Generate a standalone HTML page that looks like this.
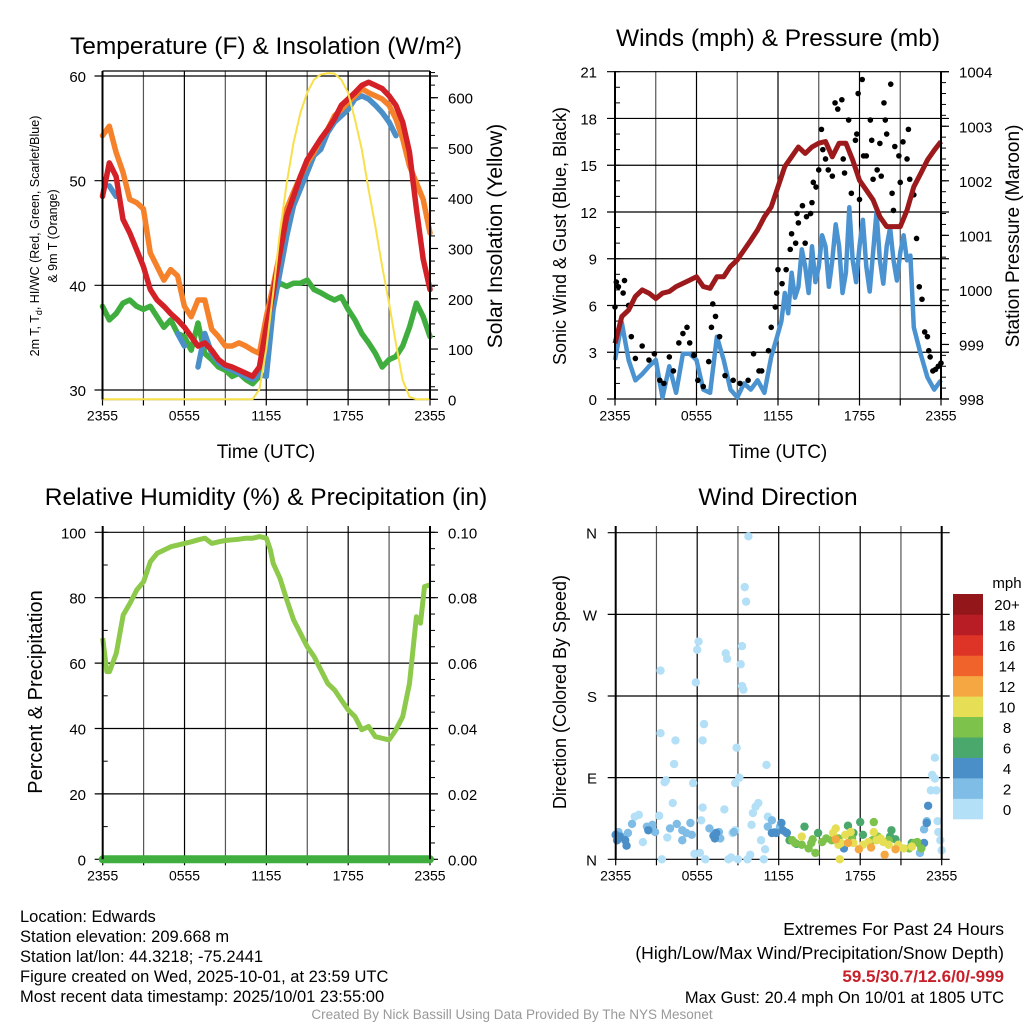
<!DOCTYPE html>
<html><head><meta charset="utf-8"><style>
html,body{margin:0;padding:0;background:#fff;}
svg{display:block;font-family:"Liberation Sans",Arial,sans-serif;}
</style></head><body>
<svg id="root" width="1024" height="1024" viewBox="0 0 1024 1024" xmlns="http://www.w3.org/2000/svg">
<g id="g1"></g>
<g id="g2"></g>
<g id="g3"></g>
<g id="g4"></g>
<g id="gt"></g>
</svg>
<script>
// ---- data (time in hours since 2355) ----
const hours = [0,0.5,1,1.5,2,2.5,3,3.5,4,4.5,5,5.5,6,6.5,7,7.5,8,8.5,9,9.5,10,10.5,11,11.5,12,12.5,13,13.5,14,14.5,15,15.5,16,16.5,17,17.5,18,18.5,19,19.5,20,20.5,21,21.5,22,22.5,23,23.5,24];
const tempRed = [48.5,51.7,50.4,46.3,45,43.4,41.8,39.6,38.6,38,37.3,36.7,36,35.1,34.2,34.5,33.8,32.9,32.4,32.2,31.9,31.6,31.3,32.2,36,39.3,43.1,46.6,48.5,50.4,52,53,54,54.9,55.9,57.2,57.8,58.4,59.1,59.4,59.1,58.8,58.1,57.2,55.6,52.7,47.3,42.5,39.6];
const temp9m = [54.3,55.2,52.7,50.8,48.2,47.9,47.3,43.1,41.8,40.5,41.5,40.9,38,37,38.6,38.6,35.8,35.1,34.2,34.2,34.5,34.2,33.8,33.5,37,39.9,43.1,47.3,48.9,50.4,51.7,52.7,54,54.9,56.2,56.8,57.5,58.1,58.8,58.4,58.1,57.8,57.2,55.9,54,51.4,49.8,48.2,45];
const tempHI = [null,49.5,48.5,null,null,null,null,null,null,null,null,35.4,34.2,null,32.2,35.4,33.5,32.6,32.2,31.9,31.6,31.3,31,31.5,31.3,37.7,41.2,44.7,47.6,49.2,50.8,52.4,53,54.6,55.6,56.2,56.8,57.8,58.1,57.8,57.2,56.5,55.6,54.3,null,null,null,null,null];
const tempDew = [38,36.7,37.3,38.3,38.6,38,37.7,38,37,36,36.7,35.4,35.1,33.8,36.4,33.5,32.9,32.2,31.9,31.3,31.6,31,30.6,31.3,36.7,39.3,40.2,39.9,40.2,40.2,40.5,39.6,39.3,38.9,38.6,38.9,37.7,36.7,35.4,34.5,33.5,32.2,32.9,33.2,34.2,36,38.3,37,35.1];
const solar = [0,0,0,0,0,0,0,0,0,0,0,0,0,0,0,0,0,0,0,0,0,0,0,20,100,211,332,430,510,570,610,636,646,649,648,636,610,557,497,417,344,264,191,111,38,5,0,0,0];
const windHours = [0,0.5,1,1.5,2,2.5,3,3.5,4,4.5,5,5.5,6,6.5,7,7.5,8,8.5,9,9.5,10,10.5,11,11.5,12,12.25,12.5,12.75,13,13.25,13.5,13.75,14,14.25,14.5,14.75,15,15.25,15.5,15.75,16,16.25,16.5,16.75,17,17.25,17.5,17.75,18,18.25,18.5,18.75,19,19.25,19.5,19.75,20,20.25,20.5,20.75,21,21.25,21.5,21.75,22,22.5,23,23.5,24];
const windSpd = [2.5,4.9,2.5,1.2,1.6,2.1,2.5,0.1,2.1,0.4,2.9,2.9,2.5,0.6,0.4,4,2.5,0.6,0.1,1,0.6,1.2,0.4,2.7,4.2,5,6.8,5.5,8.1,6.5,7.2,9.6,8.5,6.8,9.8,7.5,8.5,10.5,9.8,7.2,8.9,11.2,9.8,6.8,8.1,12.3,8.9,7.5,9.8,11.5,8.5,6.9,9.4,12,8.9,7.4,9.8,11,8.9,7.6,9.4,10.5,8.9,9.2,4.6,2.9,1.4,0.6,1.2];
const pressure = [999.02,999.51,999.63,999.88,1000,999.94,999.84,999.94,999.97,1000.06,1000.12,1000.18,1000.24,1000.06,1000.03,1000.24,1000.24,1000.43,1000.55,1000.73,1000.91,1001.1,1001.34,1001.52,1001.89,1002.26,1002.44,1002.62,1002.5,1002.62,1002.69,1002.72,1002.44,1002.69,1002.69,1002.38,1002.01,1001.83,1001.65,1001.34,1001.16,1001.16,1001.16,1001.46,1001.89,1002.13,1002.38,1002.56,1002.72];
const gustT = [0,0.1,0.25,0.7,0.6,1,1.2,1.5,2,2.5,2.9,3.3,3.6,4,4.3,4.7,5,5.3,5.5,5.8,6.1,6.5,6.9,7.1,7.2,7.4,7.7,8.1,8.7,9.2,9.8,10.2,10.6,10.8,11.3,11.5,11.8,11.9,12,12.3,12.6,12.9,13,13.3,13.4,13.5,13.8,14,14.1,14.4,14.5,14.6,14.8,15,15.2,15.3,15.5,15.7,16,16.2,16.4,16.7,16.8,16.9,17.2,17.4,17.7,17.8,17.9,18,18.2,18.3,18.5,18.8,18.9,19,19.3,19.5,19.6,19.8,19.9,20,20.3,20.4,20.5,20.6,20.9,21,21.2,21.5,21.6,21.7,22,22.2,22.4,22.6,22.8,23,23.1,23.2,23.4,23.6,23.8,24];
const gustV = [5.9,7.5,7.2,7.6,6.8,6,4,2.6,3.4,2.5,2.9,1.2,1,2.7,1.8,3.6,4.2,4.6,3.6,2.8,1.2,0.8,2.4,4.6,6.1,5.3,4,1.5,1.2,1,1.2,2.9,1.8,1.8,3.1,4.6,5.9,6.8,8.3,7.4,8.3,9.6,10.6,10,11.9,11.3,12.4,10,11.7,11.9,12.6,13.9,13.6,14.7,17.3,16,15.4,14.7,14.3,19,18.6,19.2,15.4,14.5,17.9,13.2,16.6,17,19.6,12.8,20.5,15.6,15.6,17.9,16.6,14.1,14.7,16.4,14.3,19,17.9,17,20.2,13.2,12.1,16.2,15.6,13.9,16.5,15.4,17.3,14.1,13.1,10.3,7.2,6.4,4.3,4,3.1,2.7,1.8,1.9,2.1,2.3];
const rhHours = [0,0.3,0.5,1,1.5,2,2.5,3,3.5,4,4.5,5,5.5,6,6.5,7,7.5,8,8.5,9,9.5,10,10.5,11,11.5,12,12.3,12.5,13,13.5,14,14.5,15,15.5,16,16.5,17,17.5,18,18.5,19,19.5,20,20.5,21,21.5,22,22.5,23,23.3,23.6,24];
const rh = [67.6,57.4,57.4,63,74.7,78.3,82.4,84.9,91,93.6,94.6,95.6,96.1,96.6,97.1,97.7,98.2,96.6,97.1,97.5,97.7,97.9,98.2,98.2,98.7,98.2,94.6,90.5,85.9,79.3,73.2,69.1,65,62,57.9,53.8,51.8,48.7,45.7,43.6,39.6,40.6,37.5,37,36.5,39.6,43.6,53.8,74.2,72.2,83.4,83.9];
const precip = [0,0,0,0,0,0,0,0,0,0,0,0,0,0,0,0,0,0,0,0,0,0,0,0,0];
const dirT = [9.77,9.5,9.6,6.1,6.0,5.9,3.3,8.1,8.2,9.3,9.2,9.3,9.4,6.5,6.4,3.3,4.4,4.3,8.9,9.1,8.8,11.1,3.7,3.6,5.7,4.2,6.4,8,10.5,10.3,10.1,10,11.2,1.7,1.4,3.2,6.3,3.8,2,10.7,11,5.8,6.2,3.4,6.6,8.3,8.5,9,9.7,9.9,10.9,8.6,8.8,23.5,23.3,23.5,23.2,23.6,23.7,23.75,23.9,24,
 0,0.2,0.4,0.9,1.2,2.3,2.7,2.9,4,4.5,4.9,5.2,5.5,5.6,4.9,6.9,7.6,7.7,8.7,11.2,11.5,11.7,12.1,12.5,22.7,22.9,22.4,
 0,0.3,0.7,0.8,0.1,2.4,7.2,7.3,7.4,11.5,11.8,12.2,12.3,12.6,22.5,22.7,23,22.9,16.8,
 13.9,12.8,13.3,14.9,17.1,18,17.5,18.2,20.2,20.3,20.6,21.8,
 13,13.2,13.7,14.2,14.4,14.7,14.5,15.2,15.5,15.9,16.4,17.4,19,18.9,19.3,20.1,21.6,22,22.2,22.5,
 13.7,16.2,16,16.4,16.6,16.9,17.3,17.5,18.2,18.6,19,19.2,19.5,19.7,20.1,20.8,21.2,21.8,16.5,
 16.2,17.1,17.9,18.8,19.8,20.6];
const dirDeg = [356,300,284,240,231,195,208,227,221,235,215,191,187,149,131,139,131,105,123,90,84,104,87,85,84,62,57,55,62,58,51,38,47,49,47,48,43,24,19,21,11,6,7,0,0,0,2,0,0,5,0,29,32,112,93,89,76,76,42,30,21,10,
 27,30,25,29,39,36,38,30,34,39,32,29,40,27,21,34,30,23,30,36,43,30,36,30,33,42,7,
 27,25,21,15,21,32,26,23,29,29,29,40,32,29,14,18,59,40,12,
 36,21,17,29,37,41,29,27,25,32,22,18,
 21,18,16,12,18,7,22,19,23,21,23,23,41,21,25,21,12,18,19,12,
 25,34,29,16,18,27,30,18,16,19,30,21,23,19,16,16,12,14,0,
 22,18,11,13,5,11];
const dirSpd = [1,1,1,1,1,1,1,1,1,1,1,1,1,1,1,1,1,1,1,1,1,1,1,1,1,1,1,1,1,1,1,1,1,1,1,1,1,1,1,1,1,1,1,1,1,1,1,1,1,1,1,1,1,1,1,1,1,1,1,1,1,1,
 3,3,3,3,3,3,3,3,3,3,3,3,3,3,3,3,3,3,3,3,3,3,3,3,3,3,3,
 5,5,5,5,5,5,5,5,5,5,5,5,5,5,5,5,5,5,5,
 7,7,7,7,7,7,7,7,7,7,7,7,
 9,9,9,9,9,9,9,9,9,9,9,9,9,9,9,9,9,9,9,9,
 11,11,11,11,11,11,11,11,11,11,11,11,11,11,11,11,11,11,11,
 13,13,13,13,13,13];
const xTickLabels = ["2355","0555","1155","1755","2355"];
const speedBins = ["0","2","4","6","8","10","12","14","16","18","20+"];
const speedColors = ["#b3e0f7","#7fbce6","#4a8fc7","#4aa86c","#7dc24b","#e6df56","#f5a742","#f0632a","#de3327","#b81c24","#93161a"];

const NS="http://www.w3.org/2000/svg";
function mk(parent, tag, attrs, text){
  const e=document.createElementNS(NS,tag);
  for(const k in attrs) e.setAttribute(k,attrs[k]);
  if(text!==undefined) e.textContent=text;
  parent.appendChild(e); return e;
}
function linScale(d0,d1,r0,r1){return v=>r0+(v-d0)*(r1-r0)/(d1-d0);}
function pathD(xs,ys,sx,sy){
  let d="",pen=false;
  for(let i=0;i<xs.length;i++){
    if(ys[i]===null){pen=false;continue;}
    d+=(pen?"L":"M")+sx(xs[i]).toFixed(1)+","+sy(ys[i]).toFixed(1);pen=true;
  }
  return d;
}
function frame(g,L,R,T,B,yTicks,sy,title,tx,ty){
  const sx=linScale(0,24,L,R);
  for(let h=0;h<=24;h+=3){
    const l=mk(g,"line",{x1:sx(h),x2:sx(h),y1:T,y2:B,stroke:(h%6==0?"#000":"#555"),"stroke-width":1.2});
    
    
    mk(g,"line",{x1:sx(h),x2:sx(h),y1:B,y2:B+6,stroke:"#000","stroke-width":1.2});
  }
  for(const v of yTicks){
    const y=sy(v);
    const l=mk(g,"line",{x1:L-8,x2:R+8,y1:y,y2:y,stroke:"#000","stroke-width":1.2});
    
    
  }
  xTickLabels.forEach((s,i)=>{
    const t=mk(g,"text",{x:sx(i*6),y:B+21,"font-size":14,"text-anchor":"middle"},s);
    
    
  });
  const tt=mk(g,"text",{x:tx,y:ty,"font-size":24.5,"text-anchor":"middle"},title);
  
  
  return sx;
}
function box(g,L,R,T,B){
  mk(g,"line",{x1:L,x2:L,y1:T,y2:B,stroke:"#000","stroke-width":2});
  mk(g,"line",{x1:R,x2:R,y1:T,y2:B,stroke:"#000","stroke-width":2});
}
function rotLabel(g,x,y,txt,size,name){
  const t=mk(g,"text",{x:x,y:y,"font-size":size,"text-anchor":"middle",transform:`rotate(-90 ${x} ${y})`},txt);
  
  
  return t;
}
function minorTicks(g,x,y0,y1,n,dir){
  for(let i=0;i<=n;i++){const y=y0+(y1-y0)*i/n;mk(g,"line",{x1:x,x2:x+dir*5,y1:y,y2:y,stroke:"#000","stroke-width":1});}
}

// ---- Panel 1 ----
(function(){
  const g=document.getElementById("g1");
  const L=102.5,R=430,T=71,B=399.5;
  const sy=linScale(30,60,390,76), sr=linScale(0,600,399.3,97.7);
  const sx=frame(g,L,R,T,B,[30,40,50,60],sy,"Temperature (F) & Insolation (W/m\u00B2)",266,54);
  mk(g,"line",{x1:L,x2:R,y1:T,y2:T,stroke:"#000","stroke-width":1.2});
  mk(g,"line",{x1:L,x2:R,y1:B,y2:B,stroke:"#000","stroke-width":1.2});
  [30,40,50,60].forEach(v=>{const t=mk(g,"text",{x:86,y:sy(v)+6,"font-size":15,"text-anchor":"end"},String(v));});
  [0,100,200,300,400,500,600].forEach(v=>{mk(g,"line",{x1:R,x2:R+8,y1:sr(v),y2:sr(v),stroke:"#000","stroke-width":1.2});const t=mk(g,"text",{x:448,y:sr(v)+6,"font-size":15},String(v));});
  minorTicks(g,R,sr(0),sr(650),26,1);
  const series=[[tempDew,"#3fae3f","dewpoint-line"],[tempHI,"#4a8fc7","heat-index-line"],[temp9m,"#f5812a","temp-9m-line"],[tempRed,"#d42027","temp-2m-line"]];
  series.forEach(s=>{const p=mk(g,"path",{d:pathD(hours,s[0],sx,sy),fill:"none",stroke:s[1],"stroke-width":5.5,"stroke-linejoin":"round","stroke-linecap":"round"});});
  const p=mk(g,"path",{d:pathD(hours,solar,sx,sr),fill:"none",stroke:"#f8e04a","stroke-width":2});
  
  box(g,L,R,T,B);
  const t1=mk(g,"text",{x:0,y:0,"font-size":12.5,"text-anchor":"middle",transform:"translate(39 236) rotate(-90)"});
  
  t1.innerHTML='2m T, T<tspan font-size="9" dy="3">d</tspan><tspan dy="-3">, HI/WC (Red, Green, Scarlet/Blue)</tspan>';
  rotLabel(g,57,236,"& 9m T (Orange)",12.5,"y-axis-title-2");
  rotLabel(g,502,236,"Solar Insolation (Yellow)",21,"right-axis-title");
  const xt=mk(g,"text",{x:266,y:458,"font-size":19,"text-anchor":"middle"},"Time (UTC)");
})();

// ---- Panel 2 ----
(function(){
  const g=document.getElementById("g2");
  const L=615,R=941,T=71,B=399.5;
  const sy=linScale(0,21,399,71.7), sp=linScale(998,1004,399,71.7);
  const sx=frame(g,L,R,T,B,[0,3,6,9,12,15,18,21],sy,"Winds (mph) & Pressure (mb)",778,46);
  [0,3,6,9,12,15,18,21].forEach(v=>{const t=mk(g,"text",{x:597,y:sy(v)+6,"font-size":15,"text-anchor":"end"},String(v));});
  [998,999,1000,1001,1002,1003,1004].forEach(v=>{mk(g,"line",{x1:R,x2:R+8,y1:sp(v),y2:sp(v),stroke:"#000","stroke-width":1.2});const t=mk(g,"text",{x:959,y:sp(v)+6,"font-size":15},String(v));});
  minorTicks(g,R,sp(998),sp(1004),30,1);
  minorTicks(g,L,sy(0),sy(21),21,1);
  const w=mk(g,"path",{d:pathD(windHours,windSpd,sx,sy),fill:"none",stroke:"#4a93d0","stroke-width":4.5,"stroke-linejoin":"round"});
  
  gustT.forEach((t,i)=>{const c=mk(g,"circle",{cx:sx(t),cy:sy(gustV[i]),r:2.8,fill:"#000"});});
  const p=mk(g,"path",{d:pathD(hours,pressure,sx,sp),fill:"none",stroke:"#9c1a1c","stroke-width":5,"stroke-linejoin":"round"});
  
  box(g,L,R,T,B);
  rotLabel(g,566,236,"Sonic Wind & Gust (Blue, Black)",18,"y-axis-title");
  rotLabel(g,1019,236,"Station Pressure (Maroon)",19,"right-axis-title");
  const xt=mk(g,"text",{x:778,y:458,"font-size":19,"text-anchor":"middle"},"Time (UTC)");
})();

// ---- Panel 3 ----
(function(){
  const g=document.getElementById("g3");
  const L=102.7,R=430,T=526,B=859.3;
  const sy=linScale(0,100,859.3,532.3), sr=linScale(0,0.1,859.3,532.3);
  const sx=frame(g,L,R,T,B,[0,20,40,60,80,100],sy,"Relative Humidity (%) & Precipitation (in)",266,505);
  [0,20,40,60,80,100].forEach(v=>{const t=mk(g,"text",{x:86,y:sy(v)+6,"font-size":15,"text-anchor":"end"},String(v));});
  ["0.00","0.02","0.04","0.06","0.08","0.10"].forEach((s,i)=>{const t=mk(g,"text",{x:448,y:sy(i*20)+6,"font-size":15},s);});
  minorTicks(g,R,sy(0),sy(100),20,1);minorTicks(g,L,sy(0),sy(100),10,1);
  const p=mk(g,"path",{d:pathD(rhHours,rh,sx,sy),fill:"none",stroke:"#8dc94a","stroke-width":5,"stroke-linejoin":"round"});
  
  const ph=precip.map((v,i)=>i);
  const q=mk(g,"path",{d:pathD(ph,precip,linScale(0,24,L,R),sr),fill:"none",stroke:"#3fae3f","stroke-width":8,"stroke-linecap":"round"});
  
  box(g,L,R,T,B);
  rotLabel(g,42,692,"Percent & Precipitation",20,"y-axis-title");
})();

// ---- Panel 4 ----
(function(){
  const g=document.getElementById("g4");
  const L=615.7,R=941.7,T=526,B=859.3;
  const sy=linScale(0,360,859.3,532.7);
  const sx=frame(g,L,R,T,B,[0,90,180,270,360],sy,"Wind Direction",778,505);
  ["N","E","S","W","N"].forEach((s,i)=>{const t=mk(g,"text",{x:597,y:sy(i*90)+6,"font-size":15,"text-anchor":"end"},s);});
  dirT.forEach((t,i)=>{
    const bin=Math.min(10,Math.floor(dirSpd[i]/2));
    const c=mk(g,"circle",{cx:sx(t),cy:sy(dirDeg[i]),r:4.2,fill:speedColors[bin]});
    
    
  });
  box(g,L,R,T,B);
  rotLabel(g,566,692,"Direction (Colored By Speed)",18,"y-axis-title");
  const cb=mk(g,"g",{});
  
  const h=225/11;
  speedBins.forEach((s,i)=>{
    const y=819-(i+1)*h;
    const r=mk(cb,"rect",{x:953,y:y,width:30,height:h+0.3,fill:speedColors[i]});
    
    const t=mk(cb,"text",{x:1007,y:y+h/2+6,"font-size":15,"text-anchor":"middle"},s);
    
  });
  const u=mk(cb,"text",{x:1007,y:588,"font-size":15,"text-anchor":"middle"},"mph");
})();

// ---- footer ----
(function(){
  const g=document.getElementById("gt");
  const left=["Location: Edwards","Station elevation: 209.668 m","Station lat/lon: 44.3218; -75.2441","Figure created on Wed, 2025-10-01, at 23:59 UTC","Most recent data timestamp: 2025/10/01 23:55:00"];
  left.forEach((s,i)=>{const t=mk(g,"text",{x:20,y:922+i*20,"font-size":16.5},s);});
  const right=[["Extremes For Past 24 Hours","#000","normal",935,17.5],["(High/Low/Max Wind/Precipitation/Snow Depth)","#000","normal",959,17.5],["59.5/30.7/12.6/0/-999","#c8202a","bold",982,17],["Max Gust: 20.4 mph On 10/01 at 1805 UTC","#000","normal",1003,16.5]];
  right.forEach(r=>{const t=mk(g,"text",{x:1004,y:r[3],"font-size":r[4],"text-anchor":"end",fill:r[1],"font-weight":r[2]},r[0]);});
  const c=mk(g,"text",{x:512,y:1019,"font-size":13.5,"text-anchor":"middle",fill:"#999"},"Created By Nick Bassill Using Data Provided By The NYS Mesonet");
  
})();
</script>
</body></html>
